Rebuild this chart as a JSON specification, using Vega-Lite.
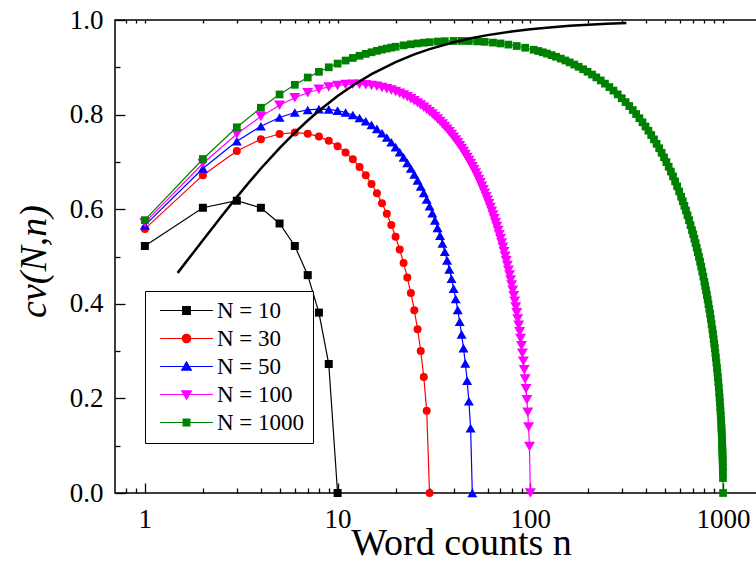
{
  "$schema": "https://vega.github.io/schema/vega-lite/v6.json",
  "width": 642,
  "height": 473,
  "autosize": {"type": "none"},
  "padding": {"left": 115, "top": 20, "right": 0, "bottom": 70},
  "background": "white",
  "config": {
    "font": "'Liberation Serif', 'Times New Roman', serif",
    "view": {"stroke": "black", "strokeWidth": 1.5},
    "axis": {"grid": false, "domain": false, "labelColor": "black", "titleColor": "black", "tickColor": "black", "tickWidth": 1.3, "labelFont": "'Liberation Serif', 'Times New Roman', serif", "titleFont": "'Liberation Serif', 'Times New Roman', serif", "titleFontWeight": "normal"}
  },
  "datasets": {
    "series": [
      {"N": "N = 10", "n": 1, "c": 0.5222}, {"N": "N = 10", "n": 2, "c": 0.6030}, {"N": "N = 10", "n": 3, "c": 0.6179}, {"N": "N = 10", "n": 4, "c": 0.6030}, {"N": "N = 10", "n": 5, "c": 0.5698}, {"N": "N = 10", "n": 6, "c": 0.5222}, {"N": "N = 10", "n": 7, "c": 0.4606}, {"N": "N = 10", "n": 8, "c": 0.3814}, {"N": "N = 10", "n": 9, "c": 0.2727}, {"N": "N = 10", "n": 10, "c": 0},
      {"N": "N = 30", "n": 1, "c": 0.5584}, {"N": "N = 30", "n": 2, "c": 0.6720}, {"N": "N = 30", "n": 3, "c": 0.7229}, {"N": "N = 30", "n": 4, "c": 0.7478}, {"N": "N = 30", "n": 5, "c": 0.7590}, {"N": "N = 30", "n": 6, "c": 0.7620}, {"N": "N = 30", "n": 7, "c": 0.7597}, {"N": "N = 30", "n": 8, "c": 0.7535}, {"N": "N = 30", "n": 9, "c": 0.7445}, {"N": "N = 30", "n": 10, "c": 0.7332},
      {"N": "N = 30", "n": 11, "c": 0.7201}, {"N": "N = 30", "n": 12, "c": 0.7055}, {"N": "N = 30", "n": 13, "c": 0.6894}, {"N": "N = 30", "n": 14, "c": 0.6720}, {"N": "N = 30", "n": 15, "c": 0.6534}, {"N": "N = 30", "n": 16, "c": 0.6336}, {"N": "N = 30", "n": 17, "c": 0.6125}, {"N": "N = 30", "n": 18, "c": 0.5902}, {"N": "N = 30", "n": 19, "c": 0.5666}, {"N": "N = 30", "n": 20, "c": 0.5415},
      {"N": "N = 30", "n": 21, "c": 0.5149}, {"N": "N = 30", "n": 22, "c": 0.4864}, {"N": "N = 30", "n": 23, "c": 0.4558}, {"N": "N = 30", "n": 24, "c": 0.4227}, {"N": "N = 30", "n": 25, "c": 0.3864}, {"N": "N = 30", "n": 26, "c": 0.3462}, {"N": "N = 30", "n": 27, "c": 0.3002}, {"N": "N = 30", "n": 28, "c": 0.2454}, {"N": "N = 30", "n": 29, "c": 0.1737}, {"N": "N = 30", "n": 30, "c": 0},
      {"N": "N = 50", "n": 1, "c": 0.5659}, {"N": "N = 50", "n": 2, "c": 0.6860}, {"N": "N = 50", "n": 3, "c": 0.7436}, {"N": "N = 50", "n": 4, "c": 0.7754}, {"N": "N = 50", "n": 5, "c": 0.7939}, {"N": "N = 50", "n": 6, "c": 0.8044}, {"N": "N = 50", "n": 7, "c": 0.8098}, {"N": "N = 50", "n": 8, "c": 0.8117}, {"N": "N = 50", "n": 9, "c": 0.8110}, {"N": "N = 50", "n": 10, "c": 0.8085},
      {"N": "N = 50", "n": 11, "c": 0.8044}, {"N": "N = 50", "n": 12, "c": 0.7992}, {"N": "N = 50", "n": 13, "c": 0.7929}, {"N": "N = 50", "n": 14, "c": 0.7859}, {"N": "N = 50", "n": 15, "c": 0.7782}, {"N": "N = 50", "n": 16, "c": 0.7698}, {"N": "N = 50", "n": 17, "c": 0.7609}, {"N": "N = 50", "n": 18, "c": 0.7515}, {"N": "N = 50", "n": 19, "c": 0.7416}, {"N": "N = 50", "n": 20, "c": 0.7313},
      {"N": "N = 50", "n": 21, "c": 0.7205}, {"N": "N = 50", "n": 22, "c": 0.7094}, {"N": "N = 50", "n": 23, "c": 0.6979}, {"N": "N = 50", "n": 24, "c": 0.6860}, {"N": "N = 50", "n": 25, "c": 0.6737}, {"N": "N = 50", "n": 26, "c": 0.6610}, {"N": "N = 50", "n": 27, "c": 0.6480}, {"N": "N = 50", "n": 28, "c": 0.6345}, {"N": "N = 50", "n": 29, "c": 0.6206}, {"N": "N = 50", "n": 30, "c": 0.6063},
      {"N": "N = 50", "n": 31, "c": 0.5916}, {"N": "N = 50", "n": 32, "c": 0.5764}, {"N": "N = 50", "n": 33, "c": 0.5606}, {"N": "N = 50", "n": 34, "c": 0.5443}, {"N": "N = 50", "n": 35, "c": 0.5275}, {"N": "N = 50", "n": 36, "c": 0.5100}, {"N": "N = 50", "n": 37, "c": 0.4918}, {"N": "N = 50", "n": 38, "c": 0.4728}, {"N": "N = 50", "n": 39, "c": 0.4530}, {"N": "N = 50", "n": 40, "c": 0.4321},
      {"N": "N = 50", "n": 41, "c": 0.4102}, {"N": "N = 50", "n": 42, "c": 0.3870}, {"N": "N = 50", "n": 43, "c": 0.3621}, {"N": "N = 50", "n": 44, "c": 0.3355}, {"N": "N = 50", "n": 45, "c": 0.3064}, {"N": "N = 50", "n": 46, "c": 0.2742}, {"N": "N = 50", "n": 47, "c": 0.2375}, {"N": "N = 50", "n": 48, "c": 0.1940}, {"N": "N = 50", "n": 49, "c": 0.1373}, {"N": "N = 50", "n": 50, "c": 0},
      {"N": "N = 100", "n": 1, "c": 0.5716}, {"N": "N = 100", "n": 2, "c": 0.6965}, {"N": "N = 100", "n": 3, "c": 0.7591}, {"N": "N = 100", "n": 4, "c": 0.7960}, {"N": "N = 100", "n": 5, "c": 0.8197}, {"N": "N = 100", "n": 6, "c": 0.8355}, {"N": "N = 100", "n": 7, "c": 0.8463}, {"N": "N = 100", "n": 8, "c": 0.8536}, {"N": "N = 100", "n": 9, "c": 0.8586}, {"N": "N = 100", "n": 10, "c": 0.8617},
      {"N": "N = 100", "n": 11, "c": 0.8635}, {"N": "N = 100", "n": 12, "c": 0.8642}, {"N": "N = 100", "n": 13, "c": 0.8640}, {"N": "N = 100", "n": 14, "c": 0.8632}, {"N": "N = 100", "n": 15, "c": 0.8617}, {"N": "N = 100", "n": 16, "c": 0.8598}, {"N": "N = 100", "n": 17, "c": 0.8575}, {"N": "N = 100", "n": 18, "c": 0.8548}, {"N": "N = 100", "n": 19, "c": 0.8518}, {"N": "N = 100", "n": 20, "c": 0.8486},
      {"N": "N = 100", "n": 21, "c": 0.8451}, {"N": "N = 100", "n": 22, "c": 0.8414}, {"N": "N = 100", "n": 23, "c": 0.8375}, {"N": "N = 100", "n": 24, "c": 0.8334}, {"N": "N = 100", "n": 25, "c": 0.8292}, {"N": "N = 100", "n": 26, "c": 0.8248}, {"N": "N = 100", "n": 27, "c": 0.8203}, {"N": "N = 100", "n": 28, "c": 0.8157}, {"N": "N = 100", "n": 29, "c": 0.8109}, {"N": "N = 100", "n": 30, "c": 0.8061},
      {"N": "N = 100", "n": 31, "c": 0.8011}, {"N": "N = 100", "n": 32, "c": 0.7960}, {"N": "N = 100", "n": 33, "c": 0.7909}, {"N": "N = 100", "n": 34, "c": 0.7856}, {"N": "N = 100", "n": 35, "c": 0.7802}, {"N": "N = 100", "n": 36, "c": 0.7748}, {"N": "N = 100", "n": 37, "c": 0.7693}, {"N": "N = 100", "n": 38, "c": 0.7637}, {"N": "N = 100", "n": 39, "c": 0.7580}, {"N": "N = 100", "n": 40, "c": 0.7522},
      {"N": "N = 100", "n": 41, "c": 0.7463}, {"N": "N = 100", "n": 42, "c": 0.7404}, {"N": "N = 100", "n": 43, "c": 0.7344}, {"N": "N = 100", "n": 44, "c": 0.7283}, {"N": "N = 100", "n": 45, "c": 0.7221}, {"N": "N = 100", "n": 46, "c": 0.7158}, {"N": "N = 100", "n": 47, "c": 0.7095}, {"N": "N = 100", "n": 48, "c": 0.7030}, {"N": "N = 100", "n": 49, "c": 0.6965}, {"N": "N = 100", "n": 50, "c": 0.6899},
      {"N": "N = 100", "n": 51, "c": 0.6833}, {"N": "N = 100", "n": 52, "c": 0.6765}, {"N": "N = 100", "n": 53, "c": 0.6696}, {"N": "N = 100", "n": 54, "c": 0.6627}, {"N": "N = 100", "n": 55, "c": 0.6557}, {"N": "N = 100", "n": 56, "c": 0.6486}, {"N": "N = 100", "n": 57, "c": 0.6413}, {"N": "N = 100", "n": 58, "c": 0.6340}, {"N": "N = 100", "n": 59, "c": 0.6266}, {"N": "N = 100", "n": 60, "c": 0.6191},
      {"N": "N = 100", "n": 61, "c": 0.6115}, {"N": "N = 100", "n": 62, "c": 0.6037}, {"N": "N = 100", "n": 63, "c": 0.5959}, {"N": "N = 100", "n": 64, "c": 0.5879}, {"N": "N = 100", "n": 65, "c": 0.5798}, {"N": "N = 100", "n": 66, "c": 0.5716}, {"N": "N = 100", "n": 67, "c": 0.5633}, {"N": "N = 100", "n": 68, "c": 0.5548}, {"N": "N = 100", "n": 69, "c": 0.5462}, {"N": "N = 100", "n": 70, "c": 0.5374},
      {"N": "N = 100", "n": 71, "c": 0.5285}, {"N": "N = 100", "n": 72, "c": 0.5194}, {"N": "N = 100", "n": 73, "c": 0.5101}, {"N": "N = 100", "n": 74, "c": 0.5007}, {"N": "N = 100", "n": 75, "c": 0.4910}, {"N": "N = 100", "n": 76, "c": 0.4812}, {"N": "N = 100", "n": 77, "c": 0.4711}, {"N": "N = 100", "n": 78, "c": 0.4608}, {"N": "N = 100", "n": 79, "c": 0.4503}, {"N": "N = 100", "n": 80, "c": 0.4395},
      {"N": "N = 100", "n": 81, "c": 0.4285}, {"N": "N = 100", "n": 82, "c": 0.4171}, {"N": "N = 100", "n": 83, "c": 0.4054}, {"N": "N = 100", "n": 84, "c": 0.3934}, {"N": "N = 100", "n": 85, "c": 0.3809}, {"N": "N = 100", "n": 86, "c": 0.3680}, {"N": "N = 100", "n": 87, "c": 0.3547}, {"N": "N = 100", "n": 88, "c": 0.3408}, {"N": "N = 100", "n": 89, "c": 0.3264}, {"N": "N = 100", "n": 90, "c": 0.3112},
      {"N": "N = 100", "n": 91, "c": 0.2953}, {"N": "N = 100", "n": 92, "c": 0.2784}, {"N": "N = 100", "n": 93, "c": 0.2605}, {"N": "N = 100", "n": 94, "c": 0.2412}, {"N": "N = 100", "n": 95, "c": 0.2202}, {"N": "N = 100", "n": 96, "c": 0.1970}, {"N": "N = 100", "n": 97, "c": 0.1706}, {"N": "N = 100", "n": 98, "c": 0.1393}, {"N": "N = 100", "n": 99, "c": 0.0985}, {"N": "N = 100", "n": 100, "c": 0},
      {"N": "N = 1000", "n": 1, "c": 0.5768}, {"N": "N = 1000", "n": 2, "c": 0.7061}, {"N": "N = 1000", "n": 3, "c": 0.7731}, {"N": "N = 1000", "n": 4, "c": 0.8145}, {"N": "N = 1000", "n": 5, "c": 0.8426}, {"N": "N = 1000", "n": 6, "c": 0.8630}, {"N": "N = 1000", "n": 7, "c": 0.8784}, {"N": "N = 1000", "n": 8, "c": 0.8904}, {"N": "N = 1000", "n": 9, "c": 0.9000}, {"N": "N = 1000", "n": 10, "c": 0.9078},
      {"N": "N = 1000", "n": 11, "c": 0.9143}, {"N": "N = 1000", "n": 12, "c": 0.9198}, {"N": "N = 1000", "n": 13, "c": 0.9244}, {"N": "N = 1000", "n": 14, "c": 0.9284}, {"N": "N = 1000", "n": 15, "c": 0.9318}, {"N": "N = 1000", "n": 16, "c": 0.9348}, {"N": "N = 1000", "n": 17, "c": 0.9374}, {"N": "N = 1000", "n": 18, "c": 0.9396}, {"N": "N = 1000", "n": 19, "c": 0.9416}, {"N": "N = 1000", "n": 20, "c": 0.9434},
      {"N": "N = 1000", "n": 22, "c": 0.9464}, {"N": "N = 1000", "n": 24, "c": 0.9487}, {"N": "N = 1000", "n": 26, "c": 0.9505}, {"N": "N = 1000", "n": 28, "c": 0.9520}, {"N": "N = 1000", "n": 30, "c": 0.9531}, {"N": "N = 1000", "n": 33, "c": 0.9544}, {"N": "N = 1000", "n": 36, "c": 0.9552}, {"N": "N = 1000", "n": 40, "c": 0.9557}, {"N": "N = 1000", "n": 44, "c": 0.9558}, {"N": "N = 1000", "n": 48, "c": 0.9555},
      {"N": "N = 1000", "n": 53, "c": 0.9548}, {"N": "N = 1000", "n": 58, "c": 0.9538}, {"N": "N = 1000", "n": 64, "c": 0.9522}, {"N": "N = 1000", "n": 70, "c": 0.9504}, {"N": "N = 1000", "n": 77, "c": 0.9480}, {"N": "N = 1000", "n": 85, "c": 0.9450}, {"N": "N = 1000", "n": 94, "c": 0.9414}, {"N": "N = 1000", "n": 104, "c": 0.9371}, {"N": "N = 1000", "n": 110, "c": 0.9345}, {"N": "N = 1000", "n": 116, "c": 0.9317},
      {"N": "N = 1000", "n": 122, "c": 0.9290}, {"N": "N = 1000", "n": 129, "c": 0.9257}, {"N": "N = 1000", "n": 136, "c": 0.9223}, {"N": "N = 1000", "n": 144, "c": 0.9184}, {"N": "N = 1000", "n": 152, "c": 0.9144}, {"N": "N = 1000", "n": 160, "c": 0.9104}, {"N": "N = 1000", "n": 169, "c": 0.9058}, {"N": "N = 1000", "n": 178, "c": 0.9011}, {"N": "N = 1000", "n": 188, "c": 0.8959}, {"N": "N = 1000", "n": 198, "c": 0.8906},
      {"N": "N = 1000", "n": 209, "c": 0.8847}, {"N": "N = 1000", "n": 220, "c": 0.8787}, {"N": "N = 1000", "n": 232, "c": 0.8722}, {"N": "N = 1000", "n": 244, "c": 0.8655}, {"N": "N = 1000", "n": 257, "c": 0.8582}, {"N": "N = 1000", "n": 270, "c": 0.8508}, {"N": "N = 1000", "n": 284, "c": 0.8428}, {"N": "N = 1000", "n": 298, "c": 0.8346}, {"N": "N = 1000", "n": 312, "c": 0.8264}, {"N": "N = 1000", "n": 326, "c": 0.8181},
      {"N": "N = 1000", "n": 340, "c": 0.8096}, {"N": "N = 1000", "n": 354, "c": 0.8011}, {"N": "N = 1000", "n": 368, "c": 0.7924}, {"N": "N = 1000", "n": 382, "c": 0.7837}, {"N": "N = 1000", "n": 396, "c": 0.7748}, {"N": "N = 1000", "n": 410, "c": 0.7659}, {"N": "N = 1000", "n": 424, "c": 0.7568}, {"N": "N = 1000", "n": 438, "c": 0.7476}, {"N": "N = 1000", "n": 452, "c": 0.7383}, {"N": "N = 1000", "n": 466, "c": 0.7288},
      {"N": "N = 1000", "n": 480, "c": 0.7193}, {"N": "N = 1000", "n": 494, "c": 0.7096}, {"N": "N = 1000", "n": 508, "c": 0.6997}, {"N": "N = 1000", "n": 522, "c": 0.6897}, {"N": "N = 1000", "n": 536, "c": 0.6796}, {"N": "N = 1000", "n": 550, "c": 0.6693}, {"N": "N = 1000", "n": 564, "c": 0.6588}, {"N": "N = 1000", "n": 578, "c": 0.6482}, {"N": "N = 1000", "n": 592, "c": 0.6374}, {"N": "N = 1000", "n": 606, "c": 0.6264},
      {"N": "N = 1000", "n": 618, "c": 0.6167}, {"N": "N = 1000", "n": 630, "c": 0.6070}, {"N": "N = 1000", "n": 642, "c": 0.5971}, {"N": "N = 1000", "n": 654, "c": 0.5870}, {"N": "N = 1000", "n": 666, "c": 0.5768}, {"N": "N = 1000", "n": 678, "c": 0.5663}, {"N": "N = 1000", "n": 690, "c": 0.5557}, {"N": "N = 1000", "n": 700, "c": 0.5467}, {"N": "N = 1000", "n": 710, "c": 0.5375}, {"N": "N = 1000", "n": 720, "c": 0.5282},
      {"N": "N = 1000", "n": 730, "c": 0.5186}, {"N": "N = 1000", "n": 740, "c": 0.5090}, {"N": "N = 1000", "n": 750, "c": 0.4991}, {"N": "N = 1000", "n": 760, "c": 0.4890}, {"N": "N = 1000", "n": 770, "c": 0.4787}, {"N": "N = 1000", "n": 780, "c": 0.4682}, {"N": "N = 1000", "n": 790, "c": 0.4575}, {"N": "N = 1000", "n": 800, "c": 0.4464}, {"N": "N = 1000", "n": 808, "c": 0.4374}, {"N": "N = 1000", "n": 816, "c": 0.4282},
      {"N": "N = 1000", "n": 824, "c": 0.4188}, {"N": "N = 1000", "n": 832, "c": 0.4092}, {"N": "N = 1000", "n": 840, "c": 0.3993}, {"N": "N = 1000", "n": 848, "c": 0.3892}, {"N": "N = 1000", "n": 856, "c": 0.3788}, {"N": "N = 1000", "n": 864, "c": 0.3682}, {"N": "N = 1000", "n": 872, "c": 0.3572}, {"N": "N = 1000", "n": 880, "c": 0.3458}, {"N": "N = 1000", "n": 887, "c": 0.3356}, {"N": "N = 1000", "n": 894, "c": 0.3251},
      {"N": "N = 1000", "n": 900, "c": 0.3157}, {"N": "N = 1000", "n": 906, "c": 0.3061}, {"N": "N = 1000", "n": 912, "c": 0.2962}, {"N": "N = 1000", "n": 918, "c": 0.2859}, {"N": "N = 1000", "n": 924, "c": 0.2752}, {"N": "N = 1000", "n": 930, "c": 0.2642}, {"N": "N = 1000", "n": 935, "c": 0.2546}, {"N": "N = 1000", "n": 940, "c": 0.2446}, {"N": "N = 1000", "n": 945, "c": 0.2342}, {"N": "N = 1000", "n": 950, "c": 0.2233},
      {"N": "N = 1000", "n": 955, "c": 0.2118}, {"N": "N = 1000", "n": 959, "c": 0.2022}, {"N": "N = 1000", "n": 963, "c": 0.1920}, {"N": "N = 1000", "n": 967, "c": 0.1814}, {"N": "N = 1000", "n": 970, "c": 0.1729}, {"N": "N = 1000", "n": 973, "c": 0.1641}, {"N": "N = 1000", "n": 976, "c": 0.1547}, {"N": "N = 1000", "n": 979, "c": 0.1447}, {"N": "N = 1000", "n": 981, "c": 0.1376}, {"N": "N = 1000", "n": 983, "c": 0.1302},
      {"N": "N = 1000", "n": 985, "c": 0.1223}, {"N": "N = 1000", "n": 987, "c": 0.1138}, {"N": "N = 1000", "n": 988, "c": 0.1094}, {"N": "N = 1000", "n": 989, "c": 0.1047}, {"N": "N = 1000", "n": 990, "c": 0.0998}, {"N": "N = 1000", "n": 991, "c": 0.0947}, {"N": "N = 1000", "n": 992, "c": 0.0893}, {"N": "N = 1000", "n": 993, "c": 0.0835}, {"N": "N = 1000", "n": 994, "c": 0.0773}, {"N": "N = 1000", "n": 995, "c": 0.0706},
      {"N": "N = 1000", "n": 996, "c": 0.0632}, {"N": "N = 1000", "n": 997, "c": 0.0547}, {"N": "N = 1000", "n": 998, "c": 0.0447}, {"N": "N = 1000", "n": 999, "c": 0.0316}, {"N": "N = 1000", "n": 1000, "c": 0}
    ],
    "envelope": [
      {"n": 1.48, "c": 0.4654}, {"n": 1.75, "c": 0.5039}, {"n": 2, "c": 0.5345}, {"n": 2.5, "c": 0.5852}, {"n": 3, "c": 0.6255}, {"n": 3.5, "c": 0.6585}, {"n": 4, "c": 0.6860}, {"n": 5, "c": 0.7293}, {"n": 6, "c": 0.7620}, {"n": 7, "c": 0.7876},
      {"n": 8, "c": 0.8081}, {"n": 10, "c": 0.8392}, {"n": 12, "c": 0.8616}, {"n": 15, "c": 0.8854}, {"n": 20, "c": 0.9110}, {"n": 25, "c": 0.9272}, {"n": 30, "c": 0.9384}, {"n": 40, "c": 0.9529}, {"n": 50, "c": 0.9619}, {"n": 60, "c": 0.9680},
      {"n": 80, "c": 0.9758}, {"n": 100, "c": 0.9805}, {"n": 130, "c": 0.9849}, {"n": 160, "c": 0.9877}, {"n": 200, "c": 0.9901}, {"n": 250, "c": 0.9921}, {"n": 315, "c": 0.9937}
    ]
  },
  "resolve": {"axis": {"x": "independent", "y": "independent"}},
  "layer": [
    {
      "data": {"name": "series"},
      "transform": [{"filter": "datum.N == 'N = 10'"}],
      "mark": {"type": "line", "strokeWidth": 1.2, "color": "#000000"},
      "encoding": {
        "x": {"field": "n", "type": "quantitative", "scale": {"type": "log", "domain": [0.7, 1500], "nice": false},
          "axis": {"orient": "bottom", "values": [1, 10, 100, 1000], "format": "d", "tickSize": -10, "labelPadding": 23, "labelFontSize": 27, "labelFlush": false,
            "title": "Word counts n", "titleFont": "'Liberation Serif', 'Times New Roman', serif", "titleFontSize": 38, "titlePadding": -8, "titleX": 346}},
        "y": {"field": "c", "type": "quantitative", "scale": {"domain": [0, 1], "nice": false},
          "axis": {"orient": "left", "values": [0, 0.2, 0.4, 0.6, 0.8, 1.0], "format": ".1f", "tickSize": -10, "labelPadding": 22, "labelFontSize": 27, "labelFlush": false,
            "title": "cv(N,n)", "titleFont": "'Liberation Serif', 'Times New Roman', serif", "titleFontSize": 38, "titleFontStyle": "italic", "titleAngle": -90, "titleX": -81, "titleY": 241, "titleAlign": "center", "titleBaseline": "middle"}}
      }
    },
    {
      "data": {"name": "series"},
      "transform": [{"filter": "datum.N == 'N = 10'"}],
      "mark": {"type": "point", "filled": true, "opacity": 1, "shape": "square", "size": 64, "color": "#000000"},
      "encoding": {
        "x": {"field": "n", "type": "quantitative",
          "axis": {"orient": "bottom", "values": [0.8, 0.9, 2, 3, 4, 5, 6, 7, 8, 9, 20, 30, 40, 50, 60, 70, 80, 90, 200, 300, 400, 500, 600, 700, 800, 900], "tickSize": -5, "labels": false, "title": null}},
        "y": {"field": "c", "type": "quantitative",
          "axis": {"orient": "left", "values": [0.1, 0.3, 0.5, 0.7, 0.9], "tickSize": -5, "labels": false, "title": null}}
      }
    },
    {
      "data": {"name": "series"},
      "transform": [{"filter": "datum.N == 'N = 30'"}],
      "mark": {"type": "line", "strokeWidth": 1.2, "color": "#ff0000"},
      "encoding": {
        "x": {"field": "n", "type": "quantitative", "axis": null},
        "y": {"field": "c", "type": "quantitative", "axis": null}
      }
    },
    {
      "data": {"name": "series"},
      "transform": [{"filter": "datum.N == 'N = 30'"}],
      "mark": {"type": "point", "filled": true, "opacity": 1, "shape": "circle", "size": 64, "color": "#ff0000"},
      "encoding": {
        "x": {"field": "n", "type": "quantitative", "axis": null},
        "y": {"field": "c", "type": "quantitative", "axis": null}
      }
    },
    {
      "data": {"name": "series"},
      "transform": [{"filter": "datum.N == 'N = 50'"}],
      "mark": {"type": "line", "strokeWidth": 1.2, "color": "#0000ff"},
      "encoding": {
        "x": {"field": "n", "type": "quantitative", "axis": null},
        "y": {"field": "c", "type": "quantitative", "axis": null}
      }
    },
    {
      "data": {"name": "series"},
      "transform": [{"filter": "datum.N == 'N = 50'"}],
      "mark": {"type": "point", "filled": true, "opacity": 1, "shape": "triangle-up", "size": 100, "color": "#0000ff"},
      "encoding": {
        "x": {"field": "n", "type": "quantitative", "axis": null},
        "y": {"field": "c", "type": "quantitative", "axis": null}
      }
    },
    {
      "data": {"name": "series"},
      "transform": [{"filter": "datum.N == 'N = 100'"}],
      "mark": {"type": "line", "strokeWidth": 1.2, "color": "#ff00ff"},
      "encoding": {
        "x": {"field": "n", "type": "quantitative", "axis": null},
        "y": {"field": "c", "type": "quantitative", "axis": null}
      }
    },
    {
      "data": {"name": "series"},
      "transform": [{"filter": "datum.N == 'N = 100'"}],
      "mark": {"type": "point", "filled": true, "opacity": 1, "shape": "triangle-down", "size": 120, "color": "#ff00ff"},
      "encoding": {
        "x": {"field": "n", "type": "quantitative", "axis": null},
        "y": {"field": "c", "type": "quantitative", "axis": null}
      }
    },
    {
      "data": {"name": "series"},
      "transform": [{"filter": "datum.N == 'N = 1000'"}],
      "mark": {"type": "line", "strokeWidth": 1.2, "color": "#008000"},
      "encoding": {
        "x": {"field": "n", "type": "quantitative", "axis": null},
        "y": {"field": "c", "type": "quantitative", "axis": null}
      }
    },
    {
      "data": {"name": "series"},
      "transform": [{"filter": "datum.N == 'N = 1000'"}],
      "mark": {"type": "point", "filled": true, "opacity": 1, "shape": "square", "size": 60, "color": "#008000"},
      "encoding": {
        "x": {"field": "n", "type": "quantitative", "axis": null},
        "y": {"field": "c", "type": "quantitative", "axis": null}
      }
    },
    {
      "data": {"name": "envelope"},
      "mark": {"type": "line", "color": "black", "strokeWidth": 2.5},
      "encoding": {
        "x": {"field": "n", "type": "quantitative",
          "axis": {"orient": "top", "values": [0.8, 0.9, 1, 2, 3, 4, 5, 6, 7, 8, 9, 10, 20, 30, 40, 50, 60, 70, 80, 90, 100, 200, 300, 400, 500, 600, 700, 800, 900, 1000], "tickSize": -3, "labels": false, "title": null}},
        "y": {"field": "c", "type": "quantitative", "axis": null}
      }
    },
    {
      "data": {"name": "series"},
      "mark": {"type": "point", "filled": true, "opacity": 0},
      "encoding": {
        "x": {"field": "n", "type": "quantitative", "axis": null},
        "y": {"field": "c", "type": "quantitative", "axis": null},
        "fill": {"field": "N", "type": "nominal",
          "scale": {"domain": ["N = 10", "N = 30", "N = 50", "N = 100", "N = 1000"], "range": ["#000000", "#ff0000", "#0000ff", "#ff00ff", "#008000"]},
          "legend": {"orient": "none", "legendX": 30, "legendY": 271, "title": null,
            "labelFont": "'Liberation Serif', 'Times New Roman', serif", "labelFontSize": 23, "labelColor": "black",
            "symbolSize": 64, "symbolStrokeWidth": 1.2, "symbolOpacity": 1, "symbolOffset": 22, "labelOffset": 19, "padding": 8, "rowPadding": 4,
            "strokeColor": "black", "fillColor": "white"}},
        "stroke": {"field": "N", "type": "nominal",
          "scale": {"domain": ["N = 10", "N = 30", "N = 50", "N = 100", "N = 1000"], "range": ["#000000", "#ff0000", "#0000ff", "#ff00ff", "#008000"]},
          "legend": {"orient": "none", "legendX": 30, "legendY": 271, "title": null,
            "labelFont": "'Liberation Serif', 'Times New Roman', serif", "labelFontSize": 23, "labelColor": "black",
            "symbolSize": 64, "symbolStrokeWidth": 1.2, "symbolOpacity": 1, "symbolOffset": 22, "labelOffset": 19, "padding": 8, "rowPadding": 4,
            "strokeColor": "black", "fillColor": "white"}},
        "shape": {"field": "N", "type": "nominal",
          "scale": {"domain": ["N = 10", "N = 30", "N = 50", "N = 100", "N = 1000"],
            "range": ["M-6.6,0H6.6M-0.95,-0.95H0.95V0.95H-0.95Z", "M-6.6,0H6.6M-1.05,0A1.05,1.05,0,1,0,1.05,0A1.05,1.05,0,1,0,-1.05,0Z", "M-6.6,0H6.6M0,-1.15L1.2,0.9L-1.2,0.9Z", "M-6.6,0H6.6M0,1.15L1.2,-0.9L-1.2,-0.9Z", "M-6.6,0H6.6M-0.85,-0.85H0.85V0.85H-0.85Z"]},
          "legend": {"orient": "none", "legendX": 30, "legendY": 271, "title": null,
            "labelFont": "'Liberation Serif', 'Times New Roman', serif", "labelFontSize": 23, "labelColor": "black",
            "symbolSize": 64, "symbolStrokeWidth": 1.2, "symbolOpacity": 1, "symbolOffset": 22, "labelOffset": 19, "padding": 8, "rowPadding": 4,
            "strokeColor": "black", "fillColor": "white"}}
      }
    }
  ]
}
